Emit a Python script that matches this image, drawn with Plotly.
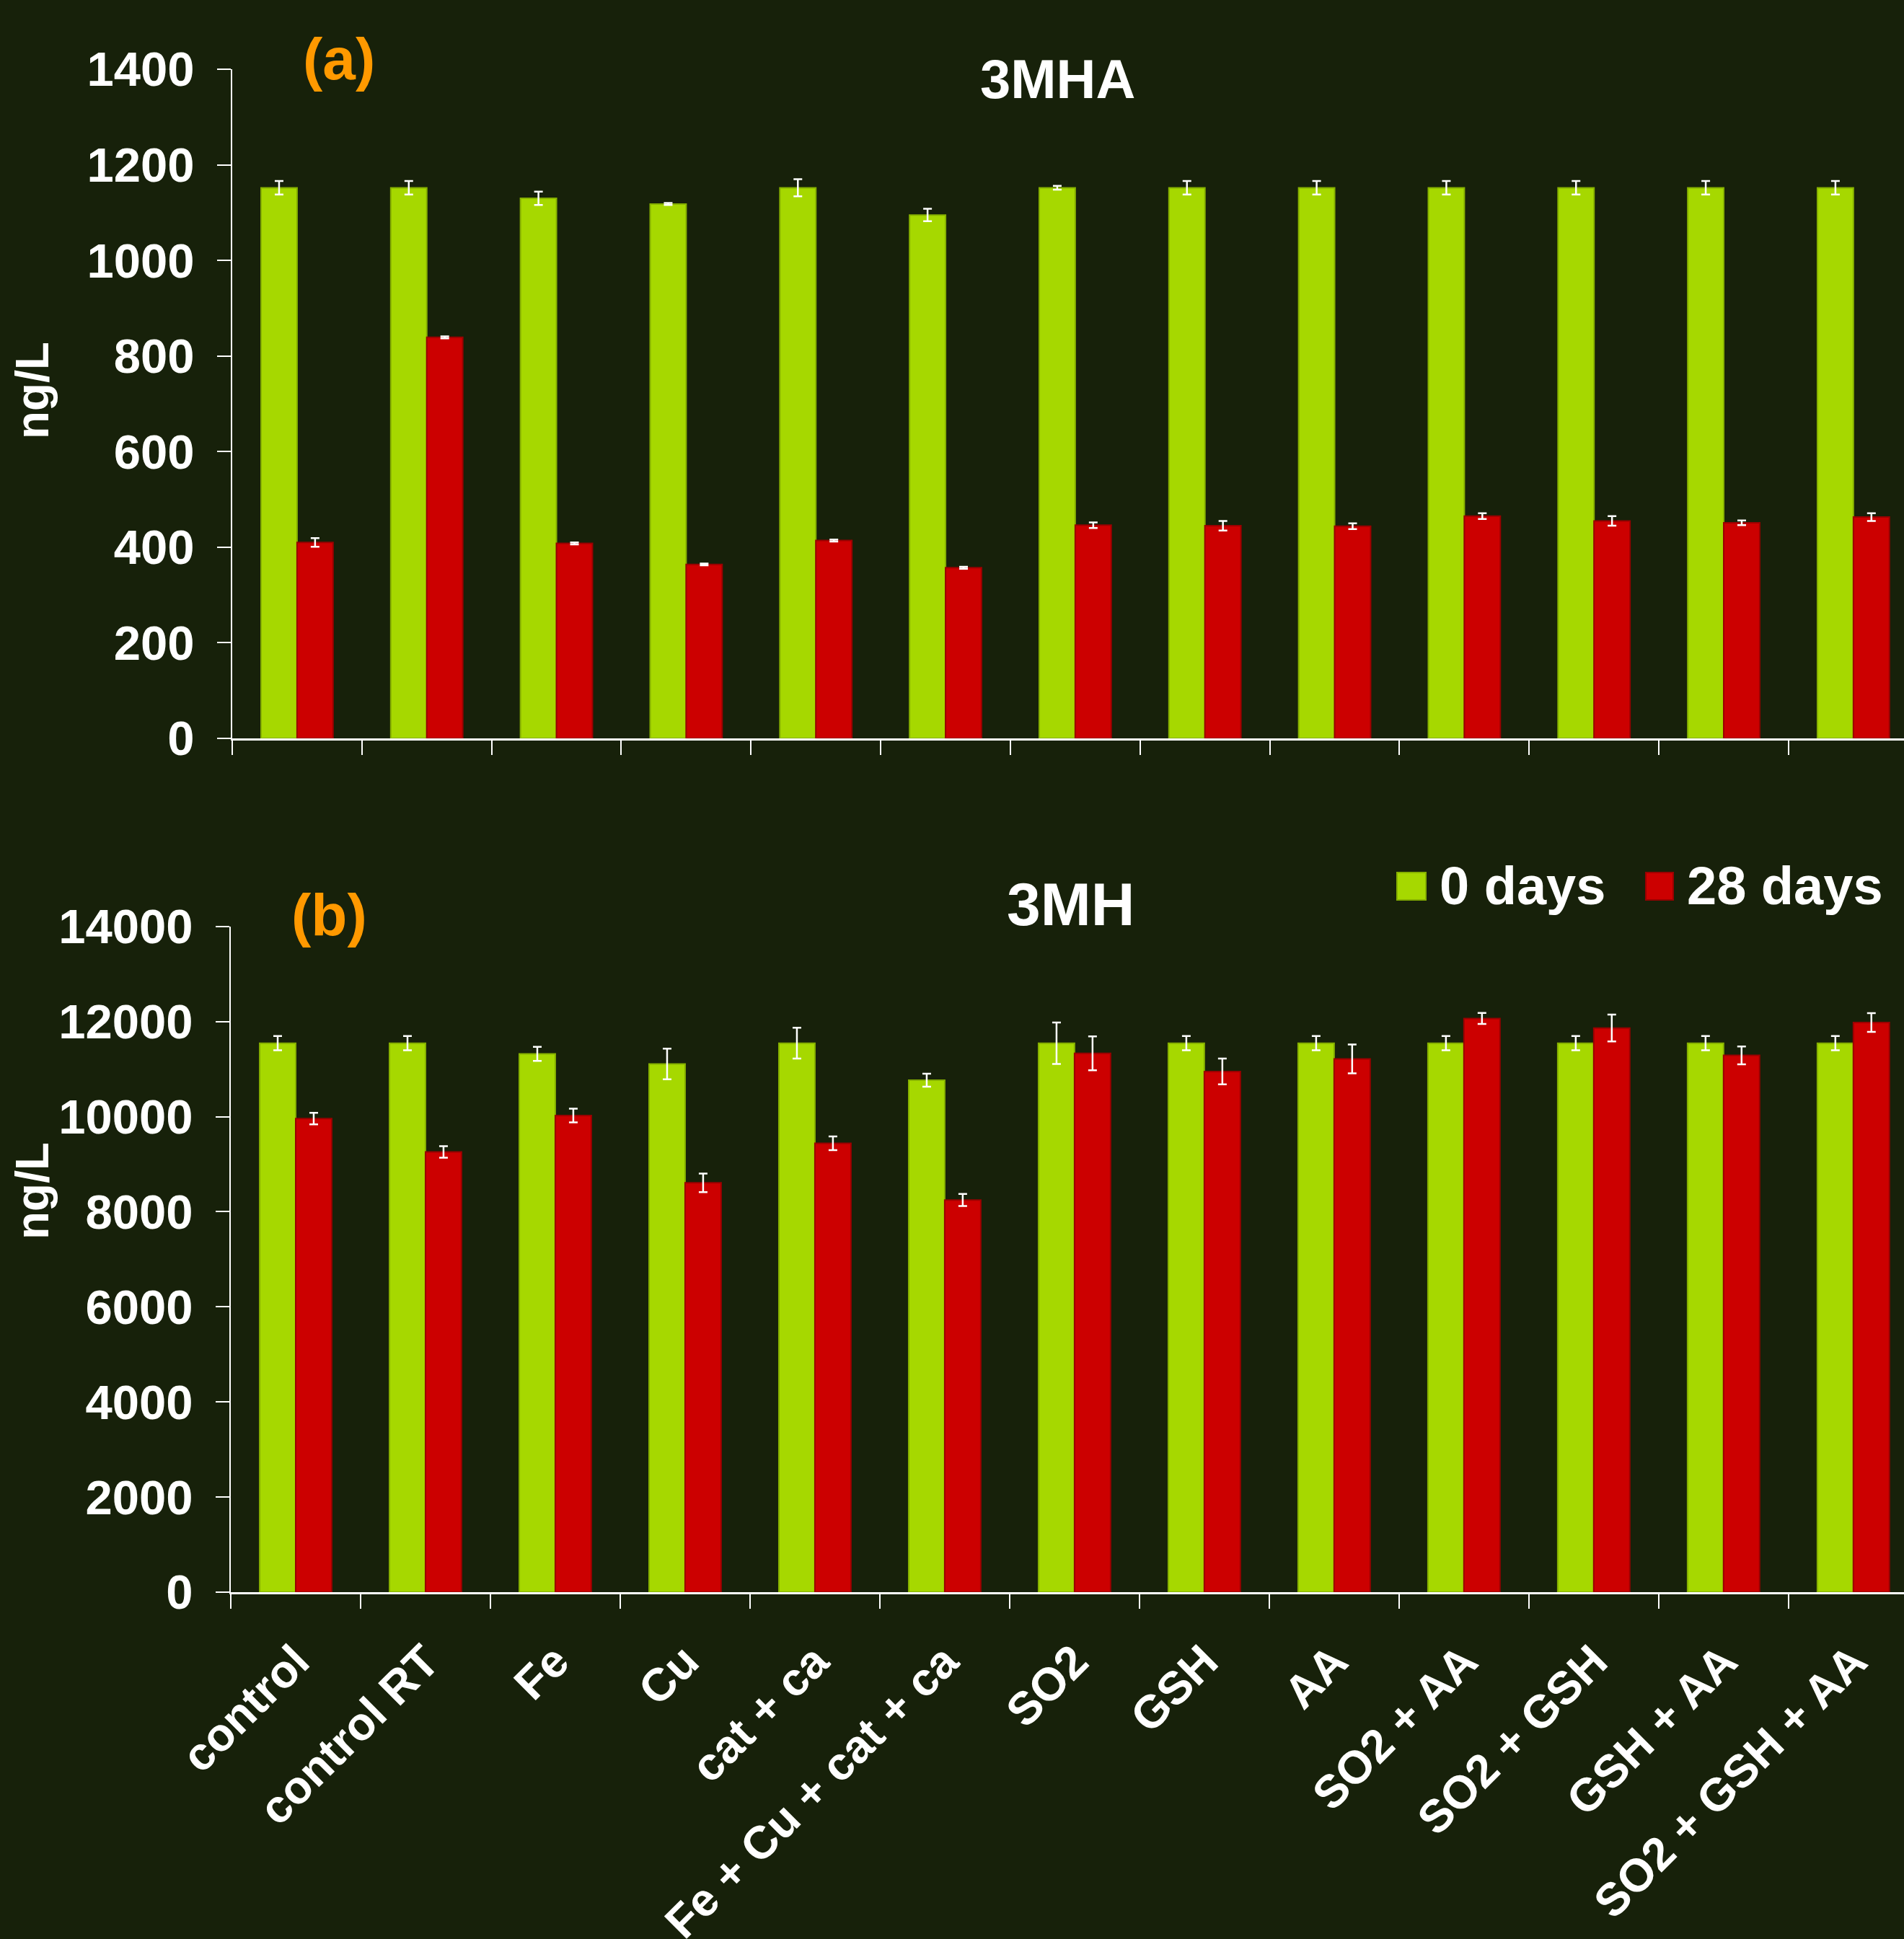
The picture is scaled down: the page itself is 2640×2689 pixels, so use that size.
import plotly.graph_objects as go

# ---------------- data ----------------
categories = ["control", "control RT", "Fe", "Cu", "cat + ca", "Fe + Cu + cat + ca",
              "SO2", "GSH", "AA", "SO2 + AA", "SO2 + GSH", "GSH + AA", "SO2 + GSH + AA"]
series_names = ["0 days", "28 days"]

mha_0 = [1152, 1152, 1130, 1118, 1152, 1095, 1152, 1152, 1152, 1152, 1152, 1152, 1152]
mha_0_err = [14, 14, 14, 2, 18, 13, 4, 14, 14, 14, 14, 14, 14]
mha_28 = [410, 839, 408, 364, 414, 357, 446, 445, 444, 465, 455, 451, 463]
mha_28_err = [9, 2, 2, 2, 2, 2, 6, 10, 6, 6, 10, 5, 8]

mh_0 = [11544, 11544, 11319, 11107, 11544, 10766, 11544, 11544, 11544, 11544, 11544, 11544, 11544]
mh_0_err = [149, 149, 149, 324, 324, 138, 436, 149, 149, 149, 149, 149, 149]
mh_28 = [9958, 9256, 10022, 8607, 9438, 8246, 11331, 10948, 11213, 12064, 11862, 11287, 11979]
mh_28_err = [122, 122, 144, 197, 144, 128, 356, 271, 303, 117, 282, 186, 197]

# ---------------- style ----------------
W, H = 2640, 2689
BG = "#17210A"
GREEN = "#A6D800"
GREEN_EDGE = "#86B000"
RED = "#CC0000"
RED_EDGE = "#9A0000"
FONT = "Liberation Sans, Arial, sans-serif"


def px_x(p):
    return p / W


def px_y(p):
    return 1 - p / H


fig = go.Figure()

err_style = dict(type="data", color="white", thickness=2.5, width=6, visible=True)

fig.add_trace(go.Bar(x=categories, y=mha_0, name=series_names[0], marker=dict(color=GREEN, line=dict(color=GREEN_EDGE, width=2)),
                     error_y=dict(array=mha_0_err, **err_style), xaxis="x", yaxis="y", showlegend=False))
fig.add_trace(go.Bar(x=categories, y=mha_28, name=series_names[1], marker=dict(color=RED, line=dict(color=RED_EDGE, width=2)),
                     error_y=dict(array=mha_28_err, **err_style), xaxis="x", yaxis="y", showlegend=False))
fig.add_trace(go.Bar(x=categories, y=mh_0, name=series_names[0], marker=dict(color=GREEN, line=dict(color=GREEN_EDGE, width=2)),
                     error_y=dict(array=mh_0_err, **err_style), xaxis="x2", yaxis="y2", showlegend=False))
fig.add_trace(go.Bar(x=categories, y=mh_28, name=series_names[1], marker=dict(color=RED, line=dict(color=RED_EDGE, width=2)),
                     error_y=dict(array=mh_28_err, **err_style), xaxis="x2", yaxis="y2", showlegend=False))

xcommon = dict(type="category", categoryorder="array", categoryarray=categories,
               range=[-0.5, 12.39], showline=True, linecolor="white", linewidth=2.5,
               ticks="outside", tickson="boundaries", ticklen=20, tickwidth=2, tickcolor="white",
               showgrid=False, zeroline=False, automargin=False, fixedrange=True)
ycommon = dict(showline=True, linecolor="white", linewidth=2, ticks="outside", ticklen=19,
               tickwidth=2, tickcolor="white", showgrid=False, zeroline=False, automargin=False,
               tickfont=dict(family=FONT, size=67, color="white", weight="bold"), tick0=0,
               tickformat="d", ticklabelstandoff=18)

fig.update_layout(
    width=W, height=H, autosize=False,
    paper_bgcolor=BG, plot_bgcolor=BG,
    margin=dict(l=0, r=0, t=0, b=0, pad=0),
    barmode="group", bargap=0.445, bargroupgap=0,
    showlegend=False,
    xaxis=dict(domain=[px_x(322), 1], anchor="y", showticklabels=False, **xcommon),
    yaxis=dict(domain=[px_y(1024), px_y(96)], anchor="x", range=[0, 1400], dtick=200, **ycommon),
    xaxis2=dict(domain=[px_x(320), 1], anchor="y2", showticklabels=True, tickangle=-45,
                ticklabelstandoff=30,
                tickfont=dict(family=FONT, size=64, color="white", weight="bold"), **xcommon),
    yaxis2=dict(domain=[px_y(2208), px_y(1284.7)], anchor="x2", range=[0, 14000], dtick=2000, **ycommon),
)

ann = []


def text(t, x, y, size, color="white", angle=0, xanchor="center"):
    ann.append(dict(text=t, x=px_x(x), y=px_y(y), xref="paper", yref="paper", showarrow=False,
                    xanchor=xanchor, yanchor="middle", textangle=angle,
                    font=dict(family=FONT, size=size, color=color, weight="bold")))


text("(a)", 470, 82, 82, color="#FF9900")
text("(b)", 456, 1268, 82, color="#FF9900")
text("3MHA", 1466, 109, 76)
text("3MH", 1484, 1254, 84)
text("ng/L", 45, 542, 64, angle=-90)
text("ng/L", 45, 1652, 64, angle=-90)
# legend
text(series_names[0], 1994, 1229, 74, xanchor="left")
text(series_names[1], 2337, 1229, 74, xanchor="left")

shapes = [
    dict(type="rect", xref="paper", yref="paper", x0=px_x(1937), x1=px_x(1977), y0=px_y(1248), y1=px_y(1210),
         fillcolor=GREEN, line=dict(color=GREEN_EDGE, width=2)),
    dict(type="rect", xref="paper", yref="paper", x0=px_x(2282), x1=px_x(2320), y0=px_y(1248), y1=px_y(1210),
         fillcolor=RED, line=dict(color=RED_EDGE, width=2)),
]

fig.update_layout(annotations=ann, shapes=shapes)

fig.write_html("out.html")
